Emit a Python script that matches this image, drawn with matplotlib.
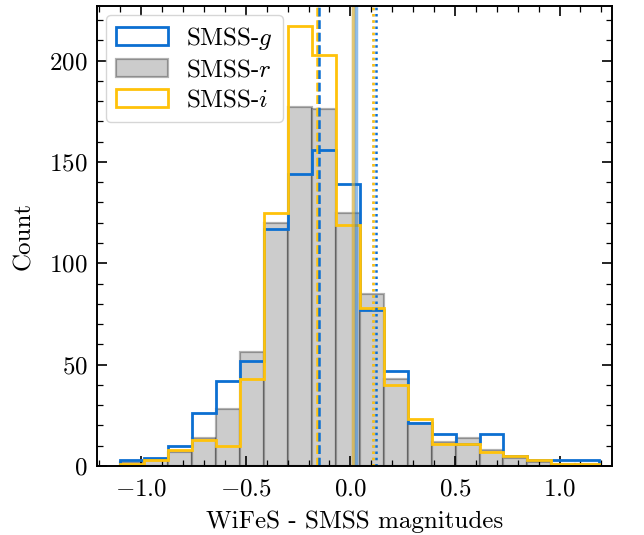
import numpy as np
import matplotlib
matplotlib.use("Agg")
import matplotlib.pyplot as plt

# histogram binning (20 shared bins)
BIN_LO, BIN_HI, N_BINS = -1.10, 1.19, 20

# counts per bin
counts_g = [3, 4, 10, 26, 42, 52, 117, 144, 156, 139, 77, 47, 21, 16, 11, 16, 5, 3, 3, 3]
counts_r = [2, 3, 7, 14, 28, 56, 120, 177, 176, 125, 85, 43, 21, 12, 14, 8, 4, 2, 1, 1]
counts_i = [1, 3, 8, 13, 10, 43, 125, 217, 203, 119, 78, 40, 23, 11, 11, 7, 5, 3, 1, 1]

# summary lines per band: (low, mid, high)
lines_g = (-0.148, 0.029, 0.124)
lines_r = (-0.154, 0.012, 0.110)
lines_i = (-0.160, 0.012, 0.108)

BLUE = "#0C6FD1"
GOLD = "#FFC20A"

plt.rcParams.update({
    "font.family": "serif",
    "font.serif": ["cmr10"],
    "mathtext.fontset": "cm",
    "axes.formatter.use_mathtext": True,
    "font.size": 18,
    "axes.linewidth": 1.4,
    "xtick.direction": "in",
    "ytick.direction": "in",
    "xtick.top": True,
    "ytick.right": True,
    "xtick.minor.visible": True,
    "ytick.minor.visible": True,
    "xtick.major.size": 7.5,
    "ytick.major.size": 7.5,
    "xtick.minor.size": 4.5,
    "ytick.minor.size": 4.5,
    "xtick.major.width": 1.2,
    "ytick.major.width": 1.2,
    "xtick.minor.width": 0.9,
    "ytick.minor.width": 0.9,
    "xtick.major.pad": 9,
    "ytick.major.pad": 7,
})

edges = np.linspace(BIN_LO, BIN_HI, N_BINS + 1)
centres = 0.5 * (edges[:-1] + edges[1:])

fig = plt.figure(figsize=(6.44, 5.35), dpi=100)
ax = fig.add_axes([0.151, 0.129, 0.799, 0.860])

_, _, p_r = ax.hist(centres, bins=edges, weights=counts_r, histtype="bar",
                    facecolor="#cccccc", edgecolor=(0, 0, 0, 0.3), linewidth=1.6,
                    label=r"SMSS-$r$")
_, _, p_g = ax.hist(centres, bins=edges, weights=counts_g, histtype="step",
                    color=BLUE, linewidth=2.0, label=r"SMSS-$g$")
_, _, p_i = ax.hist(centres, bins=edges, weights=counts_i, histtype="step",
                    color=GOLD, linewidth=2.0, label=r"SMSS-$i$")

for vals, col, a in [(lines_r, "0.55", 0.6), (lines_i, GOLD, 1.0), (lines_g, BLUE, 1.0)]:
    lo, mid, hi = vals
    ax.axvline(lo, color=col, ls=(0, (3.5, 1.5)), lw=1.8, alpha=a)
    ax.axvline(mid, color=col, ls="-", lw=2.5, alpha=0.45)
    ax.axvline(hi, color=col, ls=(0, (1, 1.5)), lw=1.8, alpha=a)

ax.set_xlim(-1.21, 1.25)
ax.set_ylim(0, 227)
ax.xaxis.set_major_locator(matplotlib.ticker.MultipleLocator(0.5))
ax.xaxis.set_minor_locator(matplotlib.ticker.MultipleLocator(0.1))
ax.yaxis.set_major_locator(matplotlib.ticker.MultipleLocator(50))
ax.yaxis.set_minor_locator(matplotlib.ticker.MultipleLocator(10))
ax.set_xlabel("WiFeS - SMSS magnitudes", labelpad=7)
ax.set_ylabel("Count", labelpad=10)

ax.legend([p_g[0], p_r[0], p_i[0]], [r"SMSS-$g$", r"SMSS-$r$", r"SMSS-$i$"],
          loc="upper left", fontsize=18, handlelength=2.1, handleheight=0.7,
          handletextpad=0.7, borderaxespad=0.35, labelspacing=0.3)

fig.savefig("out.png", dpi=100)
